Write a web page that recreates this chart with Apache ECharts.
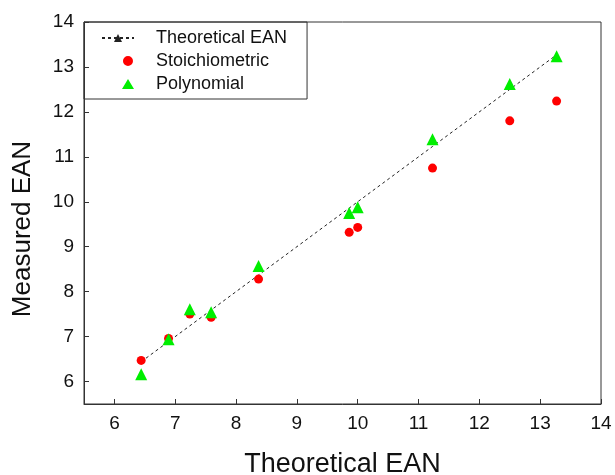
<!DOCTYPE html>
<html>
<head>
<meta charset="utf-8">
<script src="https://cdn.jsdelivr.net/npm/echarts@6/dist/echarts.min.js"></script>
<style>
  html, body { margin: 0; padding: 0; background: #fff; }
  #chart { width: 615px; height: 475px; }
</style>
</head>
<body>
<div id="chart"></div>
<script>
// theoretical EAN values (x positions)
const theoretical = [6.44, 6.89, 7.24, 7.59, 8.37, 9.86, 10.0, 11.23, 12.5, 13.27];
const stoichiometric = [6.47, 6.96, 7.50, 7.43, 8.28, 9.32, 9.43, 10.75, 11.80, 12.24];
const polynomial = [6.16, 6.94, 7.61, 7.54, 8.57, 9.75, 9.88, 11.39, 12.62, 13.24];
const xTicks = [6, 7, 8, 9, 10, 11, 12, 13, 14];
const yTicks = [6, 7, 8, 9, 10, 11, 12, 13, 14];

const chart = echarts.init(document.getElementById('chart'));
const font = 'Liberation Sans, Arial, sans-serif';

// legend icons padded on the left so the marker sits near the text
const circleIcon = 'path://M0,5L0.01,5M21,5a5,5 0 1,0 10,0a5,5 0 1,0 -10,0ZM32,5L32.01,5';
const triIcon = 'path://M0,10L0.01,10M20,10L26,0L32,10Z';

function makeAxis(ticks, name, gap, nameStyle) {
  return {
    type: 'value',
    min: 5.5,
    max: 14,
    interval: 0.5,
    name: name,
    nameGap: gap,
    nameLocation: 'middle',
    nameTextStyle: Object.assign({ fontFamily: font, fontSize: 27, color: '#111' }, nameStyle),
    axisLine: { show: true, onZero: false, lineStyle: { color: '#333', width: 1 } },
    axisTick: { show: true, inside: true, length: 5, customValues: ticks, lineStyle: { color: '#333' } },
    splitLine: { show: false },
    axisLabel: { fontFamily: font, fontSize: 19, color: '#111', margin: 10, customValues: ticks }
  };
}

const option = {
  animation: false,
  grid: {
    left: 84, right: 14, top: 22, bottom: 71,
    outerBoundsMode: 'none', containLabel: false,
    show: true, borderColor: '#333', borderWidth: 1
  },
  legend: {
    orient: 'vertical',
    left: 84,
    top: 22,
    padding: [7, 20, 6, 17],
    itemGap: 5,
    itemWidth: 32,
    itemHeight: 10,
    borderColor: '#333',
    borderWidth: 1,
    borderRadius: 0,
    textStyle: { fontFamily: font, fontSize: 18, color: '#111', padding: [0, 0, 0, 17] },
    data: [
      { name: 'Theoretical EAN' },
      { name: 'Stoichiometric', icon: circleIcon },
      { name: 'Polynomial', icon: triIcon }
    ]
  },
  xAxis: makeAxis(xTicks, 'Theoretical EAN', 47),
  // title sits a little below the middle of the axis in the original
  yAxis: makeAxis(yTicks, 'Measured EAN', 48, { fontSize: 26, padding: [0, 32, 0, 0] }),
  series: [
    {
      name: 'Theoretical EAN',
      type: 'line',
      data: theoretical.map(v => [v, v]),
      symbol: 'triangle',
      symbolSize: 3,
      showSymbol: false,
      itemStyle: { color: '#222' },
      lineStyle: { color: '#222', width: 1, type: [3, 3] },
      z: 1
    },
    {
      name: 'Stoichiometric',
      type: 'scatter',
      data: theoretical.map((v, i) => [v, stoichiometric[i]]),
      symbol: 'circle',
      symbolSize: 9,
      itemStyle: { color: '#ff0000', opacity: 1 },
      z: 2
    },
    {
      name: 'Polynomial',
      type: 'scatter',
      data: theoretical.map((v, i) => [v, polynomial[i]]),
      symbol: 'triangle',
      symbolSize: 12,
      itemStyle: { color: '#00ee00', opacity: 1 },
      z: 3
    }
  ]
};

chart.setOption(option);
</script>
</body>
</html>
